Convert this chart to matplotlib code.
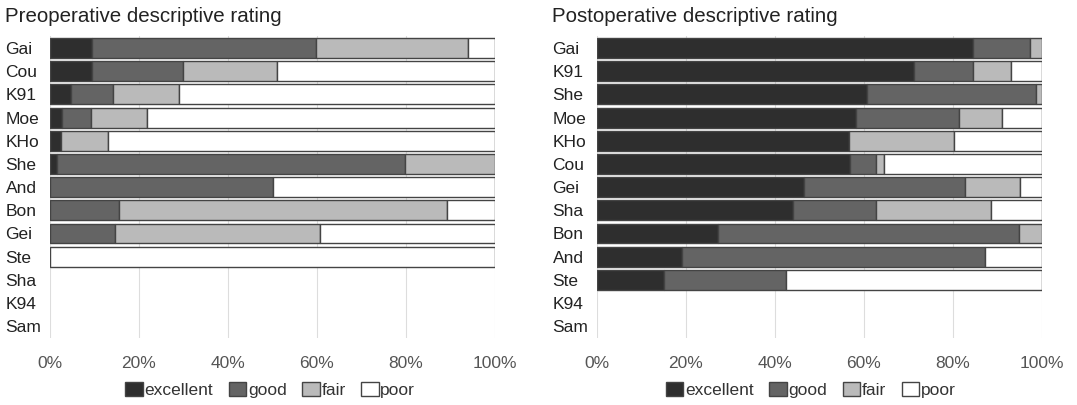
import numpy as np
import matplotlib.pyplot as plt
from matplotlib.patches import Patch

plt.rcParams['font.family'] = ['Liberation Sans', 'DejaVu Sans']

categories = ['excellent', 'good', 'fair', 'poor']
colors = ['#2e2e2e', '#646464', '#bababa', '#ffffff']

# Preoperative (percent), top to bottom
pre_names = ['Gai', 'Cou', 'K91', 'Moe', 'KHo', 'She', 'And', 'Bon', 'Gei', 'Ste', 'Sha', 'K94', 'Sam']
pre_excellent = [9.4, 9.4, 4.7, 2.6, 2.5, 1.5, 0, 0, 0, 0, 0, 0, 0]
pre_good = [50.3, 20.6, 9.4, 6.6, 0, 78.2, 50.2, 15.5, 14.6, 0, 0, 0, 0]
pre_fair = [34.3, 21.0, 14.9, 12.7, 10.6, 20.3, 0, 73.8, 46.1, 0, 0, 0, 0]
pre_poor = [5.9, 49.0, 71.0, 78.1, 86.9, 0, 49.8, 10.7, 39.3, 100, 0, 0, 0]

# Postoperative (percent), top to bottom
post_names = ['Gai', 'K91', 'She', 'Moe', 'KHo', 'Cou', 'Gei', 'Sha', 'Bon', 'And', 'Ste', 'K94', 'Sam']
post_excellent = [84.4, 71.3, 60.7, 58.3, 56.6, 56.8, 46.6, 44.1, 27.2, 19.1, 15.0, 0, 0]
post_good = [12.9, 13.1, 37.9, 23.0, 0, 6.0, 36.2, 18.7, 67.6, 68.0, 27.5, 0, 0]
post_fair = [2.7, 8.7, 1.4, 9.6, 23.7, 1.8, 12.2, 25.8, 5.2, 0, 0, 0, 0]
post_poor = [0, 6.9, 0, 9.1, 19.7, 35.4, 5.0, 11.4, 0, 12.9, 57.5, 0, 0]


def draw(ax, names, series, title, legend_x):
    y = np.arange(len(names))
    left = np.zeros(len(names))
    for vals, col in zip(series, colors):
        vals = np.array(vals, dtype=float)
        mask = vals > 0
        ax.barh(y[mask], vals[mask], left=left[mask], height=0.86,
                color=col, edgecolor='#444444', linewidth=1.0, zorder=3)
        left += vals
    ax.set_xlim(0, 100)
    ax.set_ylim(len(names) - 0.5, -0.5)
    ax.set_yticks(y)
    ax.set_yticklabels(names, fontsize=12.5, color='#222222', ha='left')
    ax.set_xticks([0, 20, 40, 60, 80, 100])
    ax.set_xticklabels(['0%', '20%', '40%', '60%', '80%', '100%'],
                       fontsize=12.5, color='#555555')
    ax.tick_params(axis='both', length=0)
    ax.tick_params(axis='x', pad=13)
    ax.tick_params(axis='y', pad=32)
    for s in ax.spines.values():
        s.set_visible(False)
    ax.grid(axis='x', color='#dddddd', linewidth=0.8, zorder=0)
    ax.set_title(title, fontsize=14.8, loc='left', x=-0.101, y=1.02, color='#222222')
    handles = [Patch(facecolor=c, edgecolor='#444444', label=l) for c, l in zip(colors, categories)]
    fig.legend(handles=handles, loc='center', bbox_to_anchor=(legend_x, 0.037), ncol=4,
               frameon=False, fontsize=12.5, handlelength=1.0, handleheight=0.9,
               handletextpad=0.1, columnspacing=0.9, labelcolor='#333333')


fig = plt.figure(figsize=(10.77, 4.05), dpi=100)
ax1 = fig.add_axes([0.0464, 0.166, 0.4132, 0.744])
ax2 = fig.add_axes([0.5543, 0.166, 0.4132, 0.744])

draw(ax1, pre_names, [pre_excellent, pre_good, pre_fair, pre_poor],
     'Preoperative descriptive rating', 0.251)
draw(ax2, post_names, [post_excellent, post_good, post_fair, post_poor],
     'Postoperative descriptive rating', 0.753)

fig.savefig('out.png', dpi=100)
